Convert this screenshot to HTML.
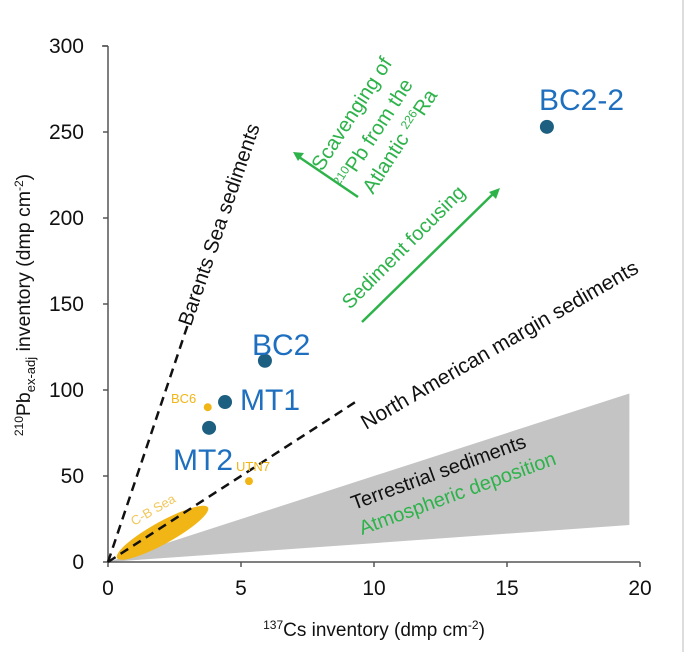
<!DOCTYPE html>
<html><head><meta charset="utf-8"><style>
body{margin:0;background:#fff;}
svg text{font-family:"Liberation Sans",Arial,sans-serif;}
</style></head><body>
<svg id="chart" width="685" height="652" viewBox="0 0 685 652" xmlns="http://www.w3.org/2000/svg">
<line x1="683" y1="0" x2="683" y2="652" stroke="#ddd" stroke-width="2"/>
<g id="plot"></g>
</svg>
<script>
const xTicks=[0,5,10,15,20];
const yTicks=[0,50,100,150,200,250,300];
const pointNames=["BC2-2","BC2","MT1","MT2"];
const pointX=[16.5,5.9,4.4,3.8];
const pointY=[253,117,93,78];
const minorNames=["BC6","UTN7"];
const minorX=[3.75,5.3];
const minorY=[90,47];
const barentsSlope=[46];
const naSlope=[10];
const terrestrialTopEnd=[19.6,98];
const terrestrialBotEnd=[19.6,21.5];
const NS="http://www.w3.org/2000/svg";
const X=v=>108+v*26.6;
const Y=v=>562-v*1.72;
const g=document.getElementById('plot');
function mk(tag,attrs,parent){const e=document.createElementNS(NS,tag);for(const k in attrs)e.setAttribute(k,attrs[k]);(parent||g).appendChild(e);return e;}
let e=mk('polygon',{points:`${X(0)},${Y(0)} ${X(terrestrialTopEnd[0])},${Y(terrestrialTopEnd[1])} ${X(terrestrialBotEnd[0])},${Y(terrestrialBotEnd[1])}`,fill:'#c4c4c4'});


e=mk('ellipse',{cx:X(2.05),cy:Y(17),rx:52,ry:11,fill:'#f2b516',transform:`rotate(-29 ${X(2.05)} ${Y(17)})`});


e=mk('path',{d:`M${X(0)},${Y(300)} H${X(0)-6} M${X(0)},${Y(300)} V${Y(0)} H${X(20)}`,stroke:'#555',fill:'none','stroke-width':1.5});


xTicks.forEach(t=>{
 let l=mk('line',{x1:X(t),x2:X(t),y1:Y(0),y2:Y(0)+5,stroke:'#555','stroke-width':1.5});
 
 
 let tx=mk('text',{x:X(t),y:595,'font-size':21,'text-anchor':'middle',fill:'#111'});tx.textContent=t;
 
 
});
yTicks.forEach(t=>{
 let l=mk('line',{x1:X(0)-5,x2:X(0),y1:Y(t),y2:Y(t),stroke:'#555','stroke-width':1.5});
 
 
 let tx=mk('text',{x:84,y:Y(t)+7,'font-size':21,'text-anchor':'end',fill:'#111'});tx.textContent=t;
 
 
});
e=mk('line',{x1:X(0),y1:Y(0),x2:X(138/barentsSlope[0]),y2:Y(138),stroke:'#111','stroke-width':2.5,'stroke-dasharray':'9,6'});


e=mk('line',{x1:X(0),y1:Y(0),x2:X(9.3),y2:Y(9.3*naSlope[0]),stroke:'#111','stroke-width':2.5,'stroke-dasharray':'9,6'});


pointNames.forEach((n,i)=>{
 let c=mk('circle',{cx:X(pointX[i]),cy:Y(pointY[i]),r:7,fill:'#1d5f80'});
 
 
});
minorNames.forEach((n,i)=>{
 let c=mk('circle',{cx:X(minorX[i]),cy:Y(minorY[i]),r:4,fill:'#f2b516'});
 
 
});
</script>
<svg width="685" height="652" style="position:absolute;left:0;top:0" xmlns="http://www.w3.org/2000/svg">
<g font-family="Liberation Sans, Arial, sans-serif">
<text x="539" y="110" font-size="30" fill="#1e6fbf">BC2-2</text>
<text x="252" y="355" font-size="30" fill="#1e6fbf">BC2</text>
<text x="240" y="410" font-size="30" fill="#1e6fbf">MT1</text>
<text x="173" y="470" font-size="30" fill="#1e6fbf">MT2</text>
<text x="171" y="403" font-size="13" fill="#f2b516">BC6</text>
<text x="236" y="471" font-size="13" fill="#f2b516">UTN7</text>
<text transform="translate(134,526) rotate(-30)" font-size="13" fill="#f2c75a">C-B Sea</text>
<text transform="translate(191,327) rotate(-71)" font-size="20.5" fill="#111">Barents Sea sediments</text>
<text transform="translate(366,430) rotate(-30)" font-size="21" fill="#111">North American margin sediments</text>
<text transform="translate(354,510) rotate(-20)" font-size="20" fill="#111">Terrestrial sediments</text>
<text transform="translate(362,535) rotate(-20)" font-size="20" fill="#2db34a">Atmospheric deposition</text>
<text transform="translate(350,310) rotate(-45)" font-size="20" fill="#2db34a">Sediment focusing</text>
<line x1="362" y1="322" x2="495" y2="192" stroke="#2db34a" stroke-width="2.5"/>
<polygon points="500,188 489,192 496,199" fill="#2db34a"/>
<line x1="358" y1="197" x2="299" y2="157" stroke="#2db34a" stroke-width="2.5"/>
<polygon points="293,152 304,153 298,161" fill="#2db34a"/>
<g fill="#2db34a" font-size="20.5">
<text transform="translate(322,172) rotate(-57)">Scavenging of</text>
<text transform="translate(345,190) rotate(-57)"><tspan font-size="12" dy="-7">210</tspan><tspan dy="7">Pb from the</tspan></text>
<text transform="translate(373,195) rotate(-57)">Atlantic <tspan font-size="12" dy="-7">226</tspan><tspan dy="7">Ra</tspan></text>
</g>
<text x="374" y="636" font-size="19" fill="#111" text-anchor="middle"><tspan font-size="12" dy="-7">137</tspan><tspan dy="7">Cs inventory (dmp cm</tspan><tspan font-size="12" dy="-7">-2</tspan><tspan dy="7">)</tspan></text>
<text transform="translate(30,305) rotate(-90)" font-size="19.5" fill="#111" text-anchor="middle"><tspan font-size="12" dy="-7">210</tspan><tspan dy="7">Pb</tspan><tspan font-size="13" dy="5">ex-adj</tspan><tspan dy="-5"> inventory (dmp cm</tspan><tspan font-size="12" dy="-7">-2</tspan><tspan dy="7">)</tspan></text>
</g>
</svg>
</body></html>
